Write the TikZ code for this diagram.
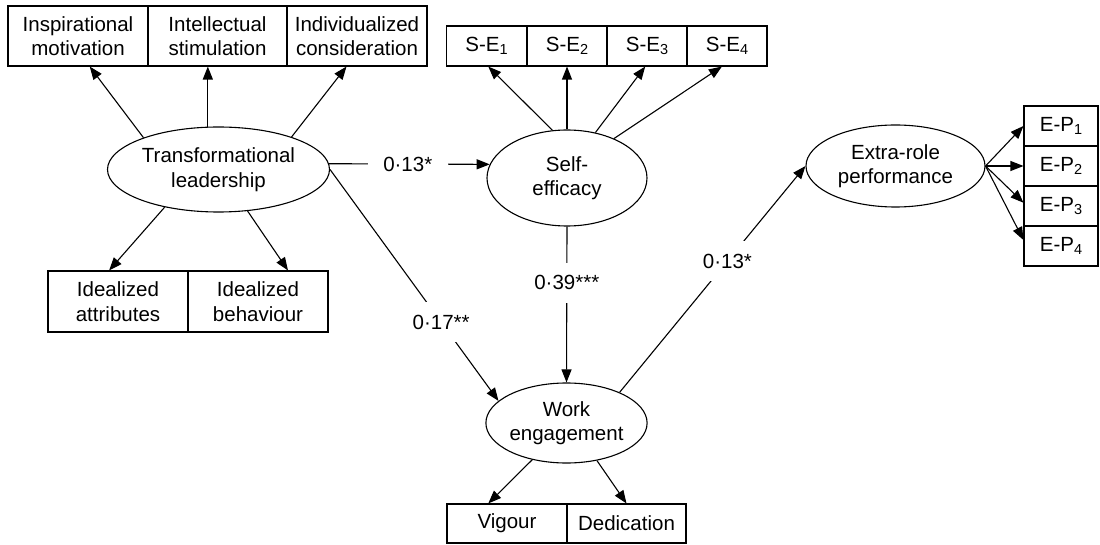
\documentclass[tikz,border=0pt]{standalone}
\usepackage{fontspec}
\setmainfont{Liberation Sans}
\usetikzlibrary{arrows.meta, shapes.geometric}
\newcommand{\lowidx}[1]{\raisebox{-3.5pt}{\fontsize{14.5}{14.5}\selectfont #1}}

\begin{document}
\begin{tikzpicture}[x=1pt, y=-1pt, line width=1.1pt,
    font=\fontsize{20.5}{24.5}\selectfont,
    box/.style={draw, rectangle, inner sep=0pt, align=center, minimum height=60pt},
    latent/.style={draw, ellipse, inner sep=0pt, align=center},
    coef/.style={fill=white, inner sep=0pt, minimum width=80pt, minimum height=40pt},
    arr/.style={-{Triangle[length=13pt, width=10pt]}}]
    \useasboundingbox (0,0) rectangle (1100,545);

    % 潜变量
    \node[latent, minimum width=222pt, minimum height=85pt] (tl) at (218.5,169.5) {Transformational\\leadership};
    \node[latent, minimum width=160pt, minimum height=96pt] (se) at (567,178) {Self-\\efficacy};
    \node[latent, minimum width=161pt, minimum height=80pt] (we) at (566.5,423) {Work\\engagement};
    \node[latent, minimum width=179pt, minimum height=82pt] (er) at (895.5,166) {Extra-role\\performance};

    % 指标
    \node[box, minimum width=140pt] (im) at (78,36) {Inspirational\\motivation};
    \node[box, minimum width=139pt] (is) at (217.5,36) {Intellectual\\stimulation};
    \node[box, minimum width=140pt] (ic) at (357,36) {Individualized\\consideration};
    \node[box, minimum width=140pt, minimum height=61pt] (ia) at (118,301.5) {Idealized\\attributes};
    \node[box, minimum width=140pt, minimum height=61pt] (ib) at (258,301.5) {Idealized\\behaviour};
    \foreach \i/\x in {1/486.5, 2/567, 3/647, 4/727} {
        \node[box, minimum width=80pt, minimum height=40pt] (se\i) at (\x,46) {S-E\lowidx{\i}};
    }
    \foreach \i/\y in {1/126, 2/166, 3/206, 4/246} {
        \node[box, minimum width=74pt, minimum height=40pt] (ep\i) at (1061,\y) {E-P\lowidx{\i}};
    }
    \node[box, minimum width=120pt, minimum height=39pt] (vig) at (507,523.5) {Vigour};
    \node[box, minimum width=119pt, minimum height=39pt] (ded) at (626.5,523.5) {Dedication};

    % 测量箭头
    \draw[arr] (tl.157) -- (im.-69);
    \draw[arr] (tl.104) -- (tl.104 |- is.south);
    \draw[arr] (tl.24) -- (ic.-109);
    \draw[arr] (tl.-145) -- (ia.106);
    \draw[arr] (tl.-55) -- (ib.46);
    \draw[arr] (se.107) -- (se1.-85);
    \draw[arr] (se.north) -- (se2.south);
    \draw[arr] (se.58) -- (se3.-95);
    \draw[arr] (se.40) -- (se4.-104);
    \draw[arr] (we.-133) -- (vig.133);
    \draw[arr] (we.-51) -- (ded.north);
    \foreach \i/\a in {1/180, 2/180, 3/175, 4/171} {
        \draw[arr] (er.east) -- (ep\i.\a);
    }

    % 路径系数
    \draw[arr] (tl.3) -- node[coef, pos=0.49] (b1) {0·13*} (se.170);
    \draw[arr] (tl.east) -- node[coef, pos=0.66] (b2) {0·17**} (we.162);
    \draw[arr] (se.south) -- node[coef, pos=0.36] (b3) {0·39***} (we.north);
    \draw[arr] (we.30) -- node[coef, pos=0.58] (b4) {0·13*} (er.west);
\end{tikzpicture}
\end{document}
